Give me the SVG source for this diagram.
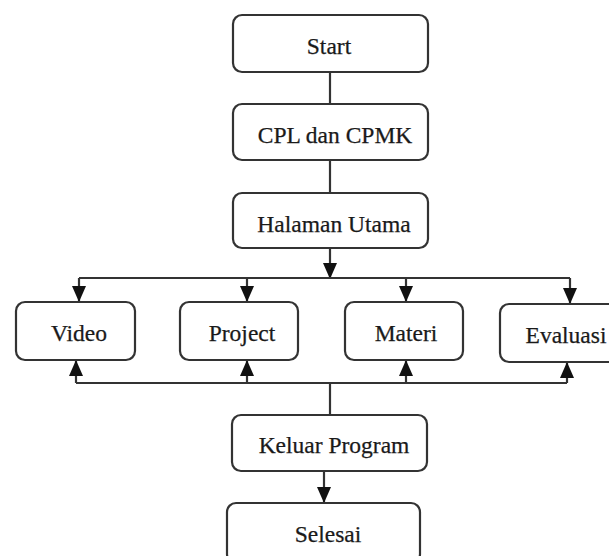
<svg xmlns="http://www.w3.org/2000/svg" width="609" height="556" viewBox="0 0 609 556">
  <style>
    .box { fill: #ffffff; stroke: #333333; stroke-width: 2.2; }
    .lbl { font-family: "Liberation Serif", "DejaVu Serif", serif; font-size: 23.5px; fill: #1a1a1a; stroke: #1a1a1a; stroke-width: 0.25; text-anchor: middle; }
    .ln { fill: none; stroke: #333333; stroke-width: 2.2; }
    .arr { fill: none; stroke: #333333; stroke-width: 2.2; marker-end: url(#head); }
  </style>
  <defs>
    <marker id="head" markerUnits="userSpaceOnUse" markerWidth="16" markerHeight="16" refX="16" refY="8" orient="auto">
      <path d="M0,1 L16,8 L0,15 z" fill="#111111"/>
    </marker>
  </defs>
  <rect width="609" height="556" fill="#ffffff"/>

  <g id="connectors">
    <line class="ln" x1="330" y1="72" x2="330" y2="104"/>
    <line class="ln" x1="330" y1="160" x2="330" y2="193"/>
    <line class="arr" x1="330" y1="248" x2="330" y2="279"/>
    <line class="ln" x1="79" y1="278" x2="570" y2="278"/>
    <line class="arr" x1="79" y1="278" x2="79" y2="302"/>
    <line class="arr" x1="247" y1="278" x2="247" y2="302"/>
    <line class="arr" x1="406" y1="278" x2="406" y2="302"/>
    <line class="arr" x1="570" y1="278" x2="570" y2="304"/>
    <line class="ln" x1="76" y1="383" x2="567" y2="383"/>
    <line class="arr" x1="76" y1="383" x2="76" y2="360"/>
    <line class="arr" x1="247" y1="383" x2="247" y2="360"/>
    <line class="arr" x1="406" y1="383" x2="406" y2="360"/>
    <line class="arr" x1="567" y1="383" x2="567" y2="362"/>
    <line class="ln" x1="330" y1="383" x2="330" y2="415"/>
    <line class="arr" x1="324" y1="471" x2="324" y2="503"/>
  </g>

  <g id="start">
    <rect class="box" x="233" y="15" width="195" height="57" rx="9"/>
    <text class="lbl" x="329" y="54">Start</text>
  </g>
  <g id="cpl">
    <rect class="box" x="233" y="104" width="195" height="56" rx="9"/>
    <text class="lbl" x="335" y="143">CPL dan CPMK</text>
  </g>
  <g id="halaman">
    <rect class="box" x="233" y="193" width="195" height="55" rx="9"/>
    <text class="lbl" x="334" y="232">Halaman Utama</text>
  </g>
  <g id="video">
    <rect class="box" x="16" y="302" width="119" height="58" rx="9"/>
    <text class="lbl" x="79" y="341">Video</text>
  </g>
  <g id="project">
    <rect class="box" x="180" y="302" width="118" height="58" rx="9"/>
    <text class="lbl" x="242" y="341">Project</text>
  </g>
  <g id="materi">
    <rect class="box" x="345" y="302" width="118" height="58" rx="9"/>
    <text class="lbl" x="406" y="341">Materi</text>
  </g>
  <g id="evaluasi">
    <rect class="box" x="500" y="304" width="125" height="58" rx="9"/>
    <text class="lbl" x="566" y="343">Evaluasi</text>
  </g>
  <g id="keluar">
    <rect class="box" x="232" y="415" width="195" height="56" rx="9"/>
    <text class="lbl" x="334" y="453">Keluar Program</text>
  </g>
  <g id="selesai">
    <rect class="box" x="227" y="503" width="193" height="60" rx="9"/>
    <text class="lbl" x="328" y="542">Selesai</text>
  </g>
</svg>
